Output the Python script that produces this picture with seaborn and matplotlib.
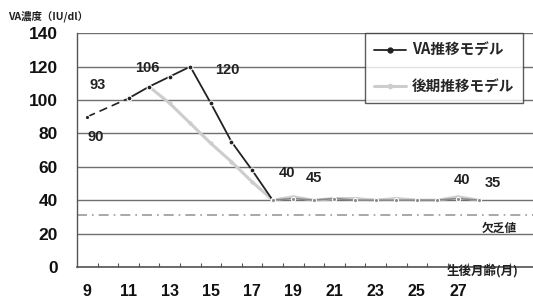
import matplotlib
matplotlib.use("Agg")
import matplotlib.pyplot as plt
import seaborn as sns
import pandas as pd
import numpy as np
from matplotlib.lines import Line2D

# data
va_months = [9, 11, 12, 13, 14, 15, 16, 17, 18, 19, 20, 21, 22, 23, 24, 25, 26, 27, 28]
va_values = [90, 101, 108, 114, 120, 98, 75, 58, 40, 41, 40, 41, 40, 40, 40, 40, 40, 41, 40]
late_months = [12, 13, 14, 15, 16, 17, 18, 19, 20, 21, 22, 23, 24, 25, 26, 27, 28]
late_values = [108, 98, 86, 74, 63, 51, 40, 42, 40, 41, 41, 40, 41, 40, 40, 42, 40]
deficiency = 31
label_texts = ["90", "93", "106", "120", "40", "45", "40", "35"]
label_pos = [(9.4, 78), (9.5, 109), (11.9, 119), (15.8, 118), (18.7, 56), (20.0, 53), (27.2, 52), (28.7, 50)]
xticks = [9, 11, 13, 15, 17, 19, 21, 23, 25, 27]
yticks = [0, 20, 40, 60, 80, 100, 120, 140]

sns.set_theme(style="white")
plt.rcParams['font.family'] = ['Noto Sans CJK JP', 'DejaVu Sans']
num_font = ["Liberation Sans", "DejaVu Sans"]

fig = plt.figure(figsize=(5.33, 3.02), dpi=100)
ax = fig.add_axes([0.1445, 0.116, 0.8555, 0.774])

df_va = pd.DataFrame({"month": va_months, "value": va_values})
df_late = pd.DataFrame({"month": late_months, "value": late_values})

# late model (light gray)
sns.lineplot(data=df_late, x="month", y="value", ax=ax, color="#cdcdcd", lw=2.2,
             marker="o", markersize=3, markeredgewidth=0, zorder=3)

# VA model: dashed segment 9-11, solid 11-18, lighter plateau 18-28
seg1 = df_va[df_va.month <= 11]
seg2 = df_va[(df_va.month >= 11) & (df_va.month <= 18)]
seg3 = df_va[df_va.month >= 18]
sns.lineplot(data=seg1, x="month", y="value", ax=ax, color="#222222", lw=1.2,
             linestyle=(0, (5, 3)), marker="o", markersize=3, zorder=4)
sns.lineplot(data=seg2, x="month", y="value", ax=ax, color="#222222", lw=1.3,
             marker="o", markersize=3.5, zorder=4)
sns.lineplot(data=seg3, x="month", y="value", ax=ax, color="#8a8a8a", lw=1.2,
             marker="o", markersize=3, zorder=4)

# deficiency line
ax.axhline(deficiency, color="#9a9a9a", lw=1.2, linestyle=(0, (6, 3, 1, 3)), zorder=2)

ax.set_xlim(8.5, 30.64)
ax.set_ylim(0, 140)
ax.set_yticks(yticks)
ax.set_yticklabels([str(v) for v in yticks], fontsize=12.5, fontweight="bold", family=num_font)
ax.set_xticks(xticks)
ax.set_xticklabels([str(v) for v in xticks], fontsize=11.5, fontweight="bold", family=num_font)
ax.set_xticks(np.arange(9.5, 30.5, 1.0), minor=True)
ax.tick_params(axis="x", which="major", length=0, pad=12, colors="#111111")
ax.tick_params(axis="x", which="minor", length=3, direction="in", color="#555555", width=0.8, bottom=True)
ax.tick_params(axis="y", length=0, pad=14, colors="#111111")
ax.set_xlabel("")
ax.set_ylabel("")
ax.yaxis.grid(True, color="#707070", lw=1.0)
ax.xaxis.grid(False)
for s in ["top", "right"]:
    ax.spines[s].set_visible(False)
ax.spines["left"].set_color("#555555")
ax.spines["bottom"].set_color("#555555")
ax.spines["left"].set_linewidth(1.0)
ax.spines["bottom"].set_linewidth(1.2)

for t, (x, y) in zip(label_texts, label_pos):
    ax.text(x, y, t, fontsize=10.5, fontweight="bold", ha="center", va="center",
            color="#222222", family=num_font, zorder=6)

ax.text(28.16, 23.4, "欠乏値", fontsize=8.5, fontweight="bold", ha="left", va="center", color="#222222")
fig.text(0.015, 0.945, "VA濃度（IU/dl）", fontsize=7.5, fontweight="bold", ha="left", va="center", color="#222222")
fig.text(0.838, 0.103, "生後月齢(月)", fontsize=9, fontweight="bold", ha="left", va="center", color="#222222")

# legend
handles = [Line2D([0], [0], color="#222222", lw=1.3, marker="o", markersize=3.5),
           Line2D([0], [0], color="#cdcdcd", lw=2.2, marker="o", markersize=3)]
leg = ax.legend(handles, ["VA推移モデル", "後期推移モデル"], loc="upper right",
                bbox_to_anchor=(0.978, 1.0), borderaxespad=0, frameon=True, fancybox=False,
                prop={"size": 10.5, "weight": "bold", "family": ["Noto Sans CJK JP", "DejaVu Sans"]},
                handlelength=2.2, borderpad=0.6, labelspacing=1.4, handletextpad=0.4)
leg.get_frame().set_edgecolor("#333333")
leg.get_frame().set_linewidth(1.0)
leg.set_zorder(10)

fig.savefig("out.png", dpi=100)
